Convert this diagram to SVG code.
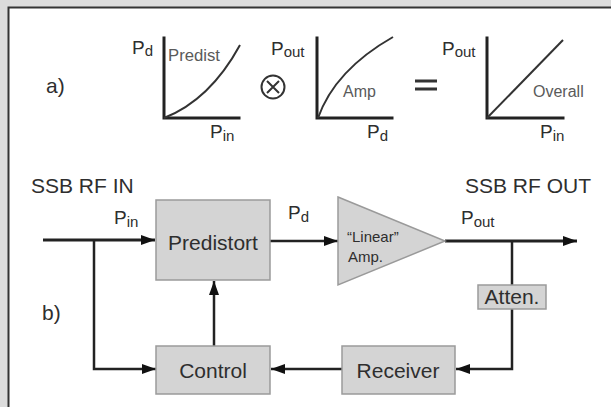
<svg xmlns="http://www.w3.org/2000/svg" width="611" height="407" viewBox="0 0 611 407">
  <style>
    .t { font-family: "Liberation Sans", Arial, sans-serif; fill: #2e2e2e; }
    .big { font-size: 21px; }
    .p { font-size: 19px; }
    .sub { font-size: 15px; }
    .lbl { font-size: 16px; fill: #5a5a5a; }
    .small { font-size: 15px; }
    .axis { stroke: #222; stroke-width: 3; fill: none; stroke-linecap: square; }
    .curve { stroke: #333; stroke-width: 2; fill: none; }
    .box { fill: #d4d4d4; stroke: #9a9a9a; stroke-width: 1.5; }
    .wire { stroke: #222; stroke-width: 2.5; fill: none; }
    .thick { stroke: #222; stroke-width: 3; fill: none; }
  </style>
  <defs>
    <marker id="arrow" viewBox="0 0 14 10" refX="14" refY="5" markerWidth="14" markerHeight="10" markerUnits="userSpaceOnUse" orient="auto">
      <path d="M0,0 L14,5 L0,10 z" fill="#111"/>
    </marker>
  </defs>

  <!-- page frame -->
  <rect x="0" y="0" width="611" height="407" fill="#dcdcdc"/>
  <rect x="8" y="7" width="603" height="400" fill="#ffffff"/>
  <path d="M8.5,407 V7.5 H611" stroke="#333" stroke-width="2" fill="none"/>

  <!-- a) transfer curves -->
  <g id="part-a">
    <text class="t big" x="46" y="93">a)</text>

    <g id="graph-predist">
      <path class="axis" d="M164,38 V118 H239"/>
      <path class="curve" d="M164,118 Q210,100 240,45"/>
      <text class="t p" x="132" y="54">P<tspan class="sub" dy="2">d</tspan></text>
      <text class="t lbl" x="168" y="61" textLength="52" lengthAdjust="spacingAndGlyphs">Predist</text>
      <text class="t p" x="210" y="138">P<tspan class="sub" dy="3">in</tspan></text>
    </g>

    <g id="op-times">
      <circle cx="273" cy="87" r="11.5" fill="none" stroke="#333" stroke-width="2"/>
      <path d="M267,81 L279,93 M279,81 L267,93" stroke="#333" stroke-width="2"/>
    </g>

    <g id="graph-amp">
      <path class="axis" d="M317,38 V118 H392"/>
      <path class="curve" d="M318,118 Q335,70 393,37"/>
      <text class="t p" x="271" y="55">P<tspan class="sub" dy="2">out</tspan></text>
      <text class="t lbl" x="343" y="97">Amp</text>
      <text class="t p" x="367" y="138">P<tspan class="sub" dy="3">d</tspan></text>
    </g>

    <g id="op-equals">
      <path d="M415,81 H437 M415,89 H437" stroke="#333" stroke-width="3"/>
    </g>

    <g id="graph-overall">
      <path class="axis" d="M487,38 V118 H563"/>
      <path class="curve" d="M487,118 L563,40"/>
      <text class="t p" x="442" y="55">P<tspan class="sub" dy="2">out</tspan></text>
      <text class="t lbl" x="533" y="97">Overall</text>
      <text class="t p" x="540" y="138">P<tspan class="sub" dy="3">in</tspan></text>
    </g>
  </g>

  <!-- b) block diagram labels -->
  <text class="t big" x="42" y="320">b)</text>
  <text class="t big" x="31" y="193">SSB RF IN</text>
  <text class="t big" x="465" y="193">SSB RF OUT</text>
  <text class="t p" x="114" y="224">P<tspan class="sub" dy="3">in</tspan></text>
  <text class="t p" x="288" y="219">P<tspan class="sub" dy="3">d</tspan></text>
  <text class="t p" x="461" y="224">P<tspan class="sub" dy="3">out</tspan></text>

  <!-- connectors -->
  <g id="connectors">
    <path class="thick" d="M43,240 H155" marker-end="url(#arrow)"/>
    <path class="wire" d="M270,241 H338" marker-end="url(#arrow)"/>
    <path class="thick" d="M445,241 H577" marker-end="url(#arrow)"/>
    <path class="wire" d="M512,241 V285"/>
    <path class="wire" d="M512,309 V369 H456" marker-end="url(#arrow)"/>
    <path class="wire" d="M342,369 H271" marker-end="url(#arrow)"/>
    <path class="wire" d="M214,346 V281" marker-end="url(#arrow)"/>
    <path class="wire" d="M94,240 V369 H156" marker-end="url(#arrow)"/>
  </g>

  <!-- blocks -->
  <g id="predistort">
    <rect class="box" x="156" y="200" width="114" height="80"/>
    <text class="t big" x="213" y="250" text-anchor="middle">Predistort</text>
  </g>
  <g id="amplifier">
    <path class="box" d="M338,197 L445,241 L338,285 z"/>
    <text class="t small" x="347" y="242">“Linear”</text>
    <text class="t small" x="348" y="262">Amp.</text>
  </g>
  <g id="atten">
    <rect class="box" x="478" y="285" width="68" height="24"/>
    <text class="t big" x="512" y="304" text-anchor="middle">Atten.</text>
  </g>
  <g id="receiver">
    <rect class="box" x="342" y="346" width="113" height="48"/>
    <text class="t big" x="398" y="378" text-anchor="middle">Receiver</text>
  </g>
  <g id="control">
    <rect class="box" x="156" y="346" width="114" height="48"/>
    <text class="t big" x="213" y="378" text-anchor="middle">Control</text>
  </g>
</svg>
